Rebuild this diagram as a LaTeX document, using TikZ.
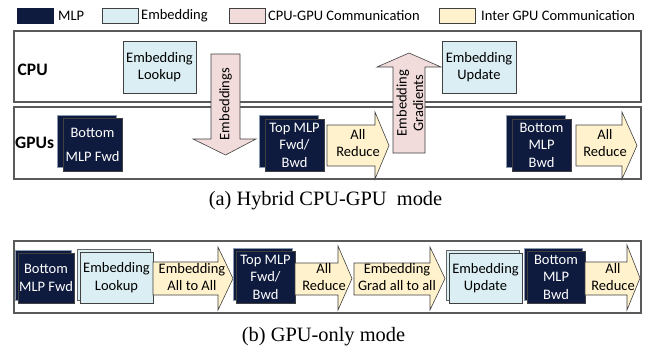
\documentclass[tikz,border=0pt]{standalone}
\usepackage{fontspec}
\setmainfont{Liberation Serif}
\newfontfamily\calfont{Carlito}
\definecolor{mlpnavy}{HTML}{0E1A3E}
\definecolor{embblue}{HTML}{DAEEF3}
\definecolor{commpink}{HTML}{F2DCDB}
\definecolor{gpuyellow}{HTML}{FFF2CC}
\definecolor{edgegray}{HTML}{404040}
\definecolor{panelgray}{HTML}{5A5A5A}
\definecolor{backedge}{HTML}{8C9AB0}
\tikzset{
  lbl/.style={font=\calfont\fontsize{14.5}{17.5}\selectfont, align=center, inner sep=0pt},
  panel/.style={draw=panelgray, line width=1.1pt, fill=white},
  mlpbox/.style={lbl, fill=mlpnavy, draw=edgegray, line width=0.6pt, text=white},
  mlpback/.style={fill=mlpnavy, draw=backedge, line width=0.6pt, inner sep=0pt},
  embbox/.style={lbl, fill=embblue, draw=edgegray, line width=0.6pt},
  embback/.style={fill=embblue, draw=edgegray!80, line width=0.6pt, inner sep=0pt},
  yarrow/.style={fill=gpuyellow, draw=edgegray, line width=0.6pt, line join=miter},
  parrow/.style={fill=commpink, draw=edgegray, line width=0.6pt, line join=miter},
  swatch/.style={draw=edgegray, line width=0.6pt, minimum width=36pt, minimum height=15pt, inner sep=0pt},
  legtext/.style={lbl, anchor=west},
  sidelbl/.style={lbl, anchor=west, font=\calfont\bfseries\fontsize{17.5}{20}\selectfont},
  caption/.style={font=\fontsize{20.4}{24}\selectfont, inner sep=0pt}
}
\begin{document}
\begin{tikzpicture}[x=1pt, y=-1pt]
\useasboundingbox (0,0) rectangle (651,349);

% legend
\node[swatch, fill=mlpnavy, draw=mlpnavy] (sw1) at (35.5,15.5) {};
\node[legtext] (lg1) at (58,15.5) {MLP};
\node[swatch, fill=embblue] (sw2) at (120,15.5) {};
\node[legtext] (lg2) at (141,15.5) {Embedding};
\node[swatch, fill=commpink] (sw3) at (247.5,15.5) {};
\node[legtext] (lg3) at (268,15.5) {CPU-GPU Communication};
\node[swatch, fill=gpuyellow] (sw4) at (457.5,15.5) {};
\node[legtext] (lg4) at (481,15.5) {Inter GPU Communication};

% (a) hybrid mode: CPU and GPU lanes
\draw[panel] (14,31) rectangle (641,102);
\draw[panel] (14,107) rectangle (641,179);
\node[sidelbl] (cpu) at (17.5,70) {CPU};
\node[sidelbl] (gpus) at (15,143) {GPUs};

\node[embbox, minimum width=73pt, minimum height=52pt] (lookupA) at (159.5,67) {Embedding\\Lookup};
\node[embbox, minimum width=74pt, minimum height=52pt] (updateA) at (479,67) {Embedding\\Update};

\node[mlpback, minimum width=59pt, minimum height=52pt] (bmfA-back) at (86.5,141) {};
\node[mlpbox, minimum width=59pt, minimum height=53pt] (bmfA) at (92.5,144.5) {Bottom\\[6.5pt]MLP Fwd};

\node[mlpback, minimum width=59pt, minimum height=52pt] (topA-back) at (288.5,141) {};
\node[mlpbox, minimum width=59pt, minimum height=52pt] (topA) at (294.5,145) {Top MLP\\Fwd/\\Bwd};

\node[mlpback, minimum width=59pt, minimum height=52pt] (bmbA-back) at (535.5,141) {};
\node[mlpbox, minimum width=59pt, minimum height=52pt] (bmbA) at (541.5,145) {Bottom\\MLP\\Bwd};

\draw[yarrow] (327,125) -- (375,125) -- (375,112) -- (389,145.5) -- (375,179) -- (375,166) -- (327,166) -- cycle;
\node[lbl] (arA1) at (358,143) {All\\Reduce};
\draw[yarrow] (576,125) -- (622,125) -- (622,112) -- (637,145.5) -- (622,179) -- (622,166) -- (576,166) -- cycle;
\node[lbl] (arA2) at (605,143) {All\\Reduce};

% transfers between CPU and GPUs
\draw[parrow] (211,54) -- (240,54) -- (240,139) -- (256,139) -- (225.5,155) -- (193,139) -- (211,139) -- cycle;
\node[lbl, rotate=90] (embdown) at (225.5,104) {Embeddings};
\draw[parrow] (393,153) -- (393,67) -- (377,67) -- (409,53) -- (441,67) -- (425,67) -- (425,153) -- cycle;
\node[lbl, rotate=90, font=\calfont\fontsize{14.5}{16.5}\selectfont] (gradup) at (410,103) {Embedding\\Gradients};

\node[caption] (capA) at (325.5,201) {(a) Hybrid CPU-GPU\ \ mode};

% (b) GPU-only mode
\draw[panel] (14,241) rectangle (641,313);

\node[mlpback, minimum width=56pt, minimum height=50pt] (bmfB-back) at (43,275) {};
\node[mlpbox, minimum width=56pt, minimum height=50pt] (bmfB) at (46,278) {Bottom\\MLP Fwd};

\node[embback, minimum width=73pt, minimum height=51pt] (lookupB-back) at (113.5,274.5) {};
\node[embbox, minimum width=73pt, minimum height=51pt] (lookupB) at (116.5,277.5) {Embedding\\Lookup};

\draw[yarrow] (153,262) -- (218,262) -- (218,247) -- (233,278.5) -- (218,310) -- (218,295) -- (153,295) -- cycle;
\node[lbl] (a2a) at (192,277) {Embedding\\All to All};

\node[mlpback, minimum width=59pt, minimum height=52pt] (topB-back) at (262.5,274) {};
\node[mlpbox, minimum width=59pt, minimum height=52pt] (topB) at (265.5,277) {Top MLP\\Fwd/\\Bwd};

\draw[yarrow] (295,263) -- (338,263) -- (338,246) -- (352,278.5) -- (338,310) -- (338,295) -- (295,295) -- cycle;
\node[lbl] (arB1) at (324,277) {All\\Reduce};

\draw[yarrow] (354,263) -- (430,263) -- (430,247) -- (445,278.5) -- (430,310) -- (430,295) -- (354,295) -- cycle;
\node[lbl] (gradB) at (397,277) {Embedding\\Grad all to all};

\node[embback, minimum width=73pt, minimum height=50pt] (updateB-back) at (482.5,275) {};
\node[embbox, minimum width=73pt, minimum height=50pt] (updateB) at (485.5,278) {Embedding\\Update};

\node[mlpback, minimum width=58pt, minimum height=52pt] (bmbB-back) at (553,274) {};
\node[mlpbox, minimum width=58pt, minimum height=52pt] (bmbB) at (556,277) {Bottom\\MLP\\Bwd};

\draw[yarrow] (585,262) -- (627,262) -- (627,245) -- (640,278) -- (627,310) -- (627,295) -- (585,295) -- cycle;
\node[lbl] (arB2) at (613,277) {All\\Reduce};

\node[caption] (capB) at (323.5,337) {(b) GPU-only mode};
\end{tikzpicture}
\end{document}
